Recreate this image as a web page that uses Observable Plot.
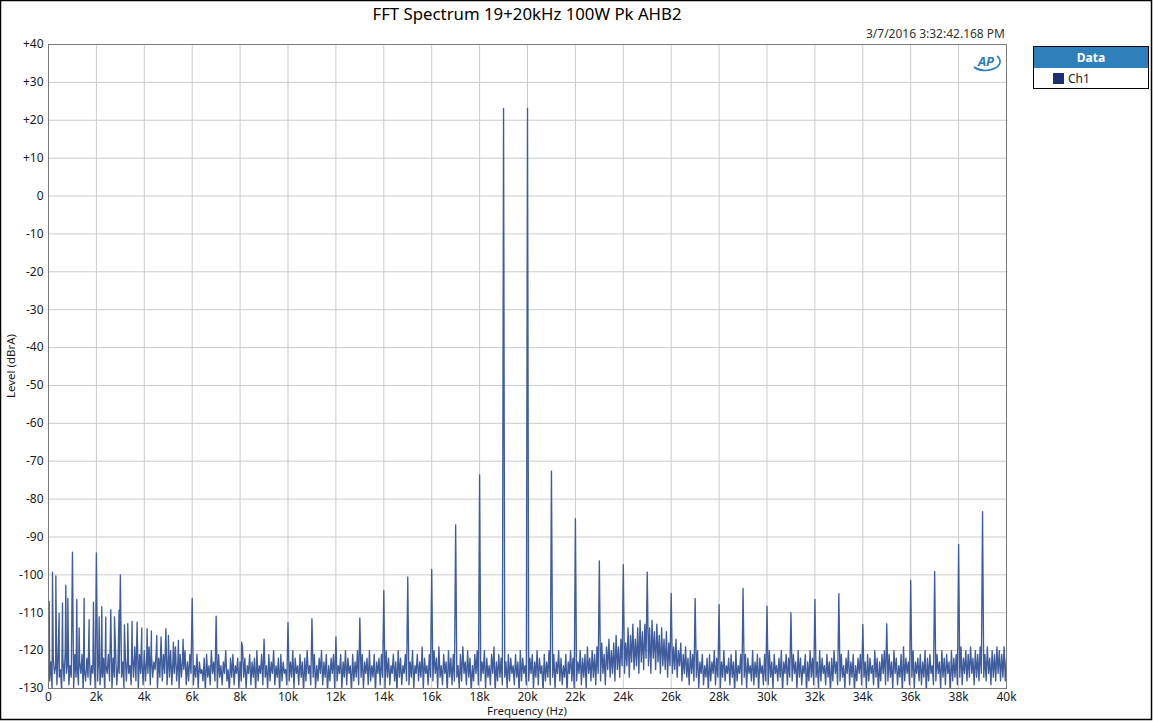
<!DOCTYPE html>
<html>
<head>
<meta charset="utf-8">
<script src="https://cdn.jsdelivr.net/npm/d3@7"></script>
<script src="https://cdn.jsdelivr.net/npm/@observablehq/plot@0.6"></script>
<style>
  html, body { margin: 0; padding: 0; background: #fff; }
  #chart { width: 1153px; height: 721px; overflow: hidden; }
</style>
</head>
<body>
<div id="chart"></div>
<script>
// ---- Data ----
const titleText = "FFT Spectrum 19+20kHz 100W Pk AHB2";
const timestampText = "3/7/2016 3:32:42.168 PM";
const xAxisTitle = "Frequency (Hz)";
const yAxisTitle = "Level (dBrA)";
const legendHeader = "Data";
const seriesName = "Ch1";

const xTicks = [0,2000,4000,6000,8000,10000,12000,14000,16000,18000,20000,22000,24000,26000,28000,30000,32000,34000,36000,38000,40000];
const xTickLabels = ["0","2k","4k","6k","8k","10k","12k","14k","16k","18k","20k","22k","24k","26k","28k","30k","32k","34k","36k","38k","40k"];
const yTicks = [-130,-120,-110,-100,-90,-80,-70,-60,-50,-40,-30,-20,-10,0,10,20,30,40];
const yTickLabels = ["-130","-120","-110","-100","-90","-80","-70","-60","-50","-40","-30","-20","-10","0","+10","+20","+30","+40"];

// Noise floor, one value every 50 Hz from 0 Hz (dBrA)
const noiseStepHz = 50;
const noiseFloor = [
 -121,-128,-123,-130,-122,-126,-124,-129,-121,-127,-125,-131,-122,-128,-120,-126,-123,-129,-124,-127,
 -122,-130,-121,-127,-124,-129,-123,-126,-121,-131,-125,-128,-122,-127,-120,-129,-124,-126,-122,-130,
 -123,-128,-121,-129,-125,-127,-122,-131,-124,-126,-121,-128,-123,-130,-122,-127,-120,-129,-124,-126,
 -121,-127,-123,-130,-120,-128,-122,-126,-124,-129,-121,-127,-119,-128,-123,-130,-121,-126,-122,-129,
 -120,-128,-122,-126,-119,-129,-121,-127,-123,-125,-120,-130,-122,-127,-119,-128,-121,-126,-124,-129,
 -121,-127,-120,-129,-122,-126,-119,-128,-123,-130,-121,-127,-122,-125,-120,-129,-123,-128,-121,-126,
 -122,-129,-124,-127,-121,-130,-123,-126,-125,-128,-122,-131,-121,-127,-124,-129,-120,-126,-123,-128,
 -122,-130,-121,-127,-124,-129,-123,-126,-120,-128,-125,-131,-122,-127,-121,-129,-124,-126,-122,-130,
 -123,-128,-119,-127,-122,-130,-124,-126,-121,-129,-123,-127,-122,-131,-120,-128,-124,-126,-121,-129,
 -122,-127,-124,-130,-121,-128,-123,-126,-120,-129,-124,-127,-122,-131,-121,-128,-123,-126,-125,-129,
 -121,-128,-123,-127,-120,-130,-122,-126,-124,-129,-121,-127,-123,-131,-122,-128,-120,-126,-124,-129,
 -123,-127,-121,-130,-124,-128,-122,-126,-120,-129,-123,-127,-121,-131,-124,-128,-122,-126,-121,-130,
 -122,-128,-124,-126,-121,-130,-123,-127,-120,-129,-122,-126,-124,-131,-121,-128,-123,-127,-120,-129,
 -124,-127,-121,-130,-123,-126,-122,-129,-120,-128,-124,-127,-121,-131,-123,-126,-122,-129,-121,-127,
 -123,-130,-120,-127,-122,-129,-124,-126,-121,-128,-123,-131,-120,-127,-122,-129,-124,-126,-121,-128,
 -122,-129,-123,-127,-120,-130,-124,-126,-121,-128,-123,-127,-119,-130,-122,-126,-124,-129,-121,-127,
 -123,-128,-120,-126,-122,-130,-119,-127,-124,-129,-121,-126,-123,-131,-120,-127,-122,-129,-121,-128,
 -122,-127,-124,-130,-121,-128,-119,-126,-123,-129,-120,-127,-122,-131,-124,-128,-121,-126,-120,-129,
 -121,-128,-123,-126,-120,-130,-122,-127,-124,-129,-121,-126,-119,-131,-123,-128,-121,-127,-122,-129,
 -120,-127,-123,-130,-121,-128,-122,-126,-124,-129,-121,-127,-123,-131,-120,-128,-122,-126,-124,-129,
 -119,-128,-122,-126,-121,-130,-123,-127,-120,-129,-122,-126,-124,-131,-121,-128,-123,-127,-120,-129,
 -122,-127,-121,-130,-123,-126,-120,-128,-122,-129,-124,-127,-121,-131,-123,-126,-120,-128,-122,-130,
 -121,-128,-123,-126,-120,-129,-122,-127,-121,-130,-119,-126,-122,-128,-120,-127,-121,-129,-119,-126,
 -120,-128,-118,-126,-121,-129,-119,-125,-117,-127,-120,-126,-118,-128,-116,-125,-119,-127,-117,-124,
 -115,-126,-118,-124,-114,-127,-116,-123,-113,-125,-117,-124,-114,-126,-112,-123,-115,-125,-113,-122,
 -111,-124,-114,-126,-112,-122,-115,-125,-113,-123,-116,-126,-114,-124,-117,-125,-115,-127,-118,-124,
 -116,-126,-119,-125,-117,-127,-120,-124,-118,-128,-121,-126,-119,-127,-122,-129,-120,-126,-121,-128,
 -122,-127,-120,-130,-123,-126,-121,-129,-124,-127,-122,-131,-121,-128,-123,-126,-120,-129,-122,-127,
 -121,-130,-123,-127,-120,-128,-124,-126,-122,-129,-121,-127,-123,-131,-120,-128,-124,-126,-121,-129,
 -123,-127,-121,-130,-122,-126,-124,-128,-120,-129,-123,-127,-121,-131,-122,-126,-124,-129,-121,-128,
 -122,-129,-120,-127,-123,-130,-121,-126,-124,-128,-122,-127,-120,-131,-123,-126,-121,-129,-122,-127,
 -124,-128,-121,-126,-123,-130,-120,-127,-122,-129,-124,-126,-121,-131,-123,-128,-120,-127,-122,-129,
 -121,-127,-123,-130,-120,-128,-122,-126,-124,-129,-121,-127,-123,-131,-122,-128,-120,-126,-123,-129,
 -122,-128,-121,-127,-124,-130,-122,-126,-120,-129,-123,-127,-121,-131,-124,-128,-122,-126,-121,-129,
 -120,-127,-123,-130,-121,-128,-122,-126,-124,-129,-120,-127,-122,-131,-123,-128,-121,-126,-120,-129,
 -122,-128,-121,-127,-123,-130,-120,-126,-122,-129,-124,-127,-121,-131,-119,-128,-122,-126,-123,-129,
 -121,-127,-120,-130,-123,-126,-122,-128,-121,-129,-123,-127,-120,-131,-122,-128,-121,-126,-124,-129,
 -122,-128,-121,-126,-123,-130,-120,-127,-122,-129,-121,-126,-123,-131,-120,-128,-122,-127,-121,-129,
 -121,-127,-119,-129,-122,-126,-120,-128,-121,-127,-119,-126,-122,-129,-120,-127,-121,-128,-119,-126,
 -120,-127,-121,-128,-119,-126,-122,-129,-120,-127,-121,-128,-119,-126,-120,-128,-121,-127,-119,-128,
 -122
];

// Discrete spectral lines: frequency (Hz) and level (dBrA)
const spurFreqs = [28,167,306,445,584,723,807,1000,1182,1280,1488,1697,1878,2000,2114,2225,2392,2600,2754,2948,3000,3170,3310,3490,3700,3894,4117,4297,4520,4700,4900,5007,5215,5424,5619,6000,7000,8066,
  9000,10000,11000,12000,13000,14000,15000,16000,17000,18000,19000,20000,21000,22000,23000,24000,25000,26000,27000,28000,29000,30000,31000,32000,33000,34000,35000,36000,37000,38000,39000];
const spurLevels = [-107,-99.3,-100.3,-110.2,-107.4,-102.7,-106.2,-94,-106.5,-114,-106.2,-111.8,-107.2,-94.2,-111.1,-108.4,-111.1,-109.2,-111.1,-109.3,-100,-113.2,-112.9,-112.3,-112.5,-114,-114.2,-114.8,-116,-116.4,-114.2,-116,-117.8,-117.3,-117,-106.2,-110.9,-117.8,
  -117,-112.6,-111.6,-116.4,-111.4,-104.2,-100.6,-98.6,-86.8,-73.6,23.1,23.1,-72.6,-85.2,-96.3,-97.3,-99.3,-104.9,-106.2,-107.9,-103.6,-108.3,-110,-106.5,-105,-113.1,-112.9,-101.5,-99.1,-92,-83.3];

// ---- Build trace ----
const spurSet = new Set(spurFreqs);
const trace = noiseFloor.map((db, i) => ({f: i * noiseStepHz, db}))
  .filter(d => !spurSet.has(d.f))
  .concat(spurFreqs.map((f, i) => ({f, db: spurLevels[i]})))
  .sort((a, b) => a.f - b.f);

const xLabelOf = new Map(xTicks.map((t, i) => [t, xTickLabels[i]]));
const yLabelOf = new Map(yTicks.map((t, i) => [t, yTickLabels[i]]));

const FONT = "'Noto Sans', 'Open Sans', sans-serif";
const gridColor = "#cbcbcb";
const lineColor = "#3f5c9d";

const svg = Plot.plot({
  width: 1153,
  height: 721,
  marginLeft: 48,
  marginRight: 147,
  marginTop: 44,
  marginBottom: 33,
  style: {fontFamily: FONT, fontSize: "12px", color: "#1a1a1a", background: "#fff", overflow: "visible"},
  x: {domain: [0, 40000]},
  y: {domain: [-130, 40]},
  marks: [
    Plot.gridX(xTicks, {stroke: gridColor, strokeOpacity: 1, strokeWidth: 1}),
    Plot.gridY(yTicks, {stroke: gridColor, strokeOpacity: 1, strokeWidth: 1}),
    Plot.axisX(xTicks, {tickSize: 0, tickPadding: 4, tickFormat: d => xLabelOf.get(d), label: null, fill: "#1a1a1a"}),
    Plot.axisY(yTicks, {tickSize: 0, tickPadding: 5, tickFormat: d => yLabelOf.get(d), label: null, fill: "#1a1a1a"}),
    Plot.line(trace, {x: "f", y: "db", stroke: lineColor, strokeWidth: 1.35, clip: true}),
    Plot.frame({stroke: "#7a7a7a", strokeWidth: 1})
  ]
});

const s = d3.select(svg);
// outer border
s.append("rect").attr("x", 0.5).attr("y", 0.5).attr("width", 1151).attr("height", 719)
  .attr("fill", "none").attr("stroke", "#000").attr("stroke-width", 1.5);
// title
s.append("text").attr("x", 527).attr("y", 20).attr("text-anchor", "middle")
  .attr("font-family", FONT).attr("font-size", 16.8).attr("fill", "#000").text(titleText);
// timestamp
s.append("text").attr("x", 1005).attr("y", 38).attr("text-anchor", "end")
  .attr("font-family", FONT).attr("font-size", 12).attr("fill", "#333").text(timestampText);
// axis titles
s.append("text").attr("x", 527).attr("y", 715).attr("text-anchor", "middle")
  .attr("font-family", FONT).attr("font-size", 11.5).attr("fill", "#1a1a1a").text(xAxisTitle);
s.append("text").attr("transform", "translate(15,366) rotate(-90)").attr("text-anchor", "middle")
  .attr("font-family", FONT).attr("font-size", 11.5).attr("fill", "#1a1a1a").text(yAxisTitle);
// AP logo
const logo = s.append("g").attr("transform", "translate(986,62)");
logo.append("path").attr("d", "M -12 5 A 13 8 0 0 0 11 -6").attr("fill", "none").attr("stroke", "#2a7cc0").attr("stroke-width", 1.6);
logo.append("text").attr("x", 0).attr("y", 4).attr("text-anchor", "middle")
  .attr("font-family", FONT).attr("font-style", "italic").attr("font-weight", "bold")
  .attr("font-size", 13).attr("fill", "#2a7cc0").text("AP");
// legend
const lg = s.append("g");
lg.append("rect").attr("x", 1033.5).attr("y", 46.5).attr("width", 115).attr("height", 42)
  .attr("fill", "#fff").attr("stroke", "#000").attr("stroke-width", 1);
lg.append("rect").attr("x", 1034).attr("y", 47).attr("width", 114).attr("height", 21).attr("fill", "#2f7fba");
lg.append("text").attr("x", 1091).attr("y", 62).attr("text-anchor", "middle")
  .attr("font-family", FONT).attr("font-weight", "bold").attr("font-size", 12).attr("fill", "#fff").text(legendHeader);
lg.append("rect").attr("x", 1053).attr("y", 73).attr("width", 11).attr("height", 11).attr("fill", "#1b2f6e");
lg.append("text").attr("x", 1068).attr("y", 83).attr("text-anchor", "start")
  .attr("font-family", FONT).attr("font-size", 12).attr("fill", "#1a1a1a").text(seriesName);

document.getElementById("chart").appendChild(svg);
</script>
</body>
</html>
